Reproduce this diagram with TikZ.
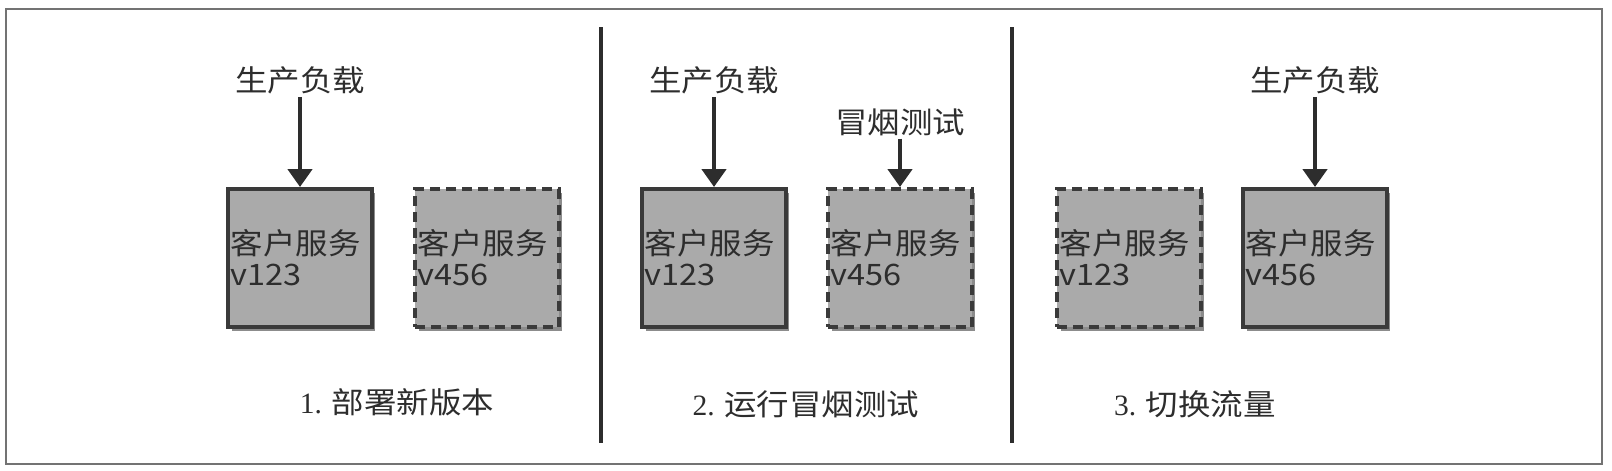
\documentclass[tikz,border=0pt]{standalone}
\usepackage{fontspec}
\newfontfamily\cjk[FakeStretch=1.1]{Noto Sans CJK SC}
\newfontfamily\numserif{Liberation Serif}
\usetikzlibrary{arrows.meta,shadows}
\definecolor{boxgray}{RGB}{170,170,170}
\definecolor{edgegray}{RGB}{58,58,58}
\definecolor{inkgray}{RGB}{45,45,45}

\tikzset{
    svcbox/.style={draw=edgegray, line width=2.8pt, fill=boxgray, text=inkgray,
        minimum width=3.55cm, minimum height=3.45cm, text width=3.45cm, align=left, inner sep=2pt,
        font=\cjk\fontsize{21}{22}\selectfont,
        drop shadow={shadow xshift=2.5pt, shadow yshift=-2.5pt, opacity=0.45, fill=black}},
    svcidle/.style={svcbox, dash pattern=on 0.25cm off 0.15cm},
    loadlabel/.style={text=inkgray, inner sep=2pt, font=\cjk\fontsize{21}{22}\selectfont},
    feed/.style={draw=inkgray, line width=3.4pt, -{Triangle[width=0.6cm,length=0.45cm]}}
}

\begin{document}
\begin{tikzpicture}[x=0.025cm, y=-0.025cm]
    \useasboundingbox (0,0) rectangle (1612,470);
    % outer frame and the two dividers
    \draw[gray!90!black, line width=1.4pt] (6,9) rectangle (1602,464);
    \draw[inkgray, line width=2.4pt] (601,27) -- (601,443);
    \draw[inkgray, line width=2.4pt] (1012,27) -- (1012,443);

    % 1. deploy the new version
    \node[svcbox] (old1) at (300,258) {客户服务\\v123};
    \node[svcidle] (new1) at (487,258) {客户服务\\v456};
    \node[loadlabel] (load1) at (300,80) {生产负载};
    \draw[feed] (load1) -- (old1);
    \node[loadlabel] (title1) at (397,402) {{\numserif 1.} 部署新版本};

    % 2. smoke test the new version
    \node[svcbox] (old2) at (714,258) {客户服务\\v123};
    \node[svcidle] (new2) at (900,258) {客户服务\\v456};
    \node[loadlabel] (load2) at (714,80) {生产负载};
    \node[loadlabel] (smoke2) at (900,122) {冒烟测试};
    \draw[feed] (load2) -- (old2);
    \draw[feed] (smoke2) -- (new2);
    \node[loadlabel] (title2) at (806,404) {{\numserif 2.} 运行冒烟测试};

    % 3. switch the traffic over
    \node[svcidle] (old3) at (1129,258) {客户服务\\v123};
    \node[svcbox] (new3) at (1315,258) {客户服务\\v456};
    \node[loadlabel] (load3) at (1315,80) {生产负载};
    \draw[feed] (load3) -- (new3);
    \node[loadlabel] (title3) at (1195,404) {{\numserif 3.} 切换流量};
\end{tikzpicture}
\end{document}
